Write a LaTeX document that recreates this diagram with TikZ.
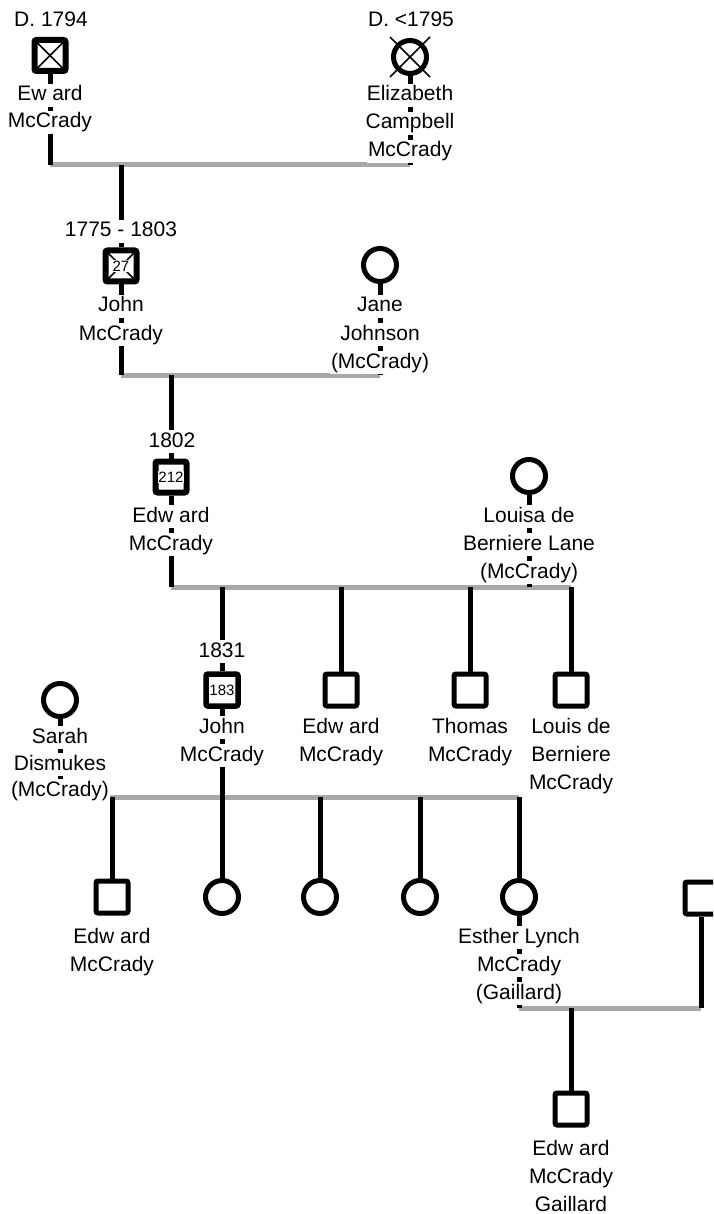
\documentclass[tikz,border=0pt]{standalone}
\usepackage{fontspec}
\setmainfont{Liberation Sans}
\usetikzlibrary{backgrounds}
\definecolor{mline}{RGB}{168,168,168}
\tikzset{
 lbl/.style={font=\fontsize{21}{21}\selectfont, fill=white, inner xsep=1pt, inner ysep=0pt, text height=17pt, text depth=6pt, anchor=base},
 num/.style={font=\fontsize{15}{15}\selectfont, fill=white, inner sep=0.8pt},
 male/.style={draw, fill=white, rectangle, minimum size=32pt, line width=5pt, rounded corners=2pt, inner sep=0pt},
 maleb/.style={male, line width=6pt, minimum size=31pt},
 female/.style={draw, fill=white, circle, minimum size=33pt, line width=5pt, inner sep=0pt},
 conn/.style={line width=5pt, black},
 marr/.style={line width=5pt, mline},
 xline/.style={line width=1.5pt},
}
\begin{document}
\begin{tikzpicture}[x=1pt,y=-1pt]
\useasboundingbox (0,0) rectangle (713,1214);
\clip (0,0) rectangle (713,1214);

% ---------- generation 1
\node[maleb] (eward) at (50,55.5) {};
\draw[xline] ([shift={(-12.5,-12.5)}]eward.center) -- ([shift={(12.5,12.5)}]eward.center);
\draw[xline] ([shift={(-12.5,12.5)}]eward.center) -- ([shift={(12.5,-12.5)}]eward.center);
\node[lbl] (t1a) at (51,27) {D. 1794};
\node[lbl] (t1b) at (50,101) {Ew ard};
\node[lbl] (t1c) at (50,128) {McCrady};

\node[female] (eliz) at (410,57) {};
\draw[xline] ([shift={(-20,-20)}]eliz.center) -- ([shift={(20,20)}]eliz.center);
\draw[xline] ([shift={(-20,20)}]eliz.center) -- ([shift={(20,-20)}]eliz.center);
\node[lbl] (t2a) at (411,27) {D. <1795};
\node[lbl] (t2b) at (410,101) {Elizabeth};
\node[lbl] (t2c) at (410,129) {Campbell};
\node[lbl] (t2d) at (410,157) {McCrady};

\coordinate (m1l) at (50,165);
\coordinate (m1r) at (410,165);
\coordinate (m1c) at (121,165);

% ---------- generation 2
\node[lbl] (t3a) at (121,237) {1775 - 1803};
\node[maleb] (john1) at (121,266) {};
\draw[xline] ([shift={(-12.5,-12.5)}]john1.center) -- ([shift={(12.5,12.5)}]john1.center);
\draw[xline] ([shift={(-12.5,12.5)}]john1.center) -- ([shift={(12.5,-12.5)}]john1.center);
\node[num] (n27) at (john1.center) {27};
\node[lbl] (t3b) at (121,312) {John};
\node[lbl] (t3c) at (121,340) {McCrady};

\node[female] (jane) at (380,265) {};
\node[lbl] (t4a) at (380,312) {Jane};
\node[lbl] (t4b) at (380,340) {Johnson};
\node[lbl] (t4c) at (380,368) {(McCrady)};

\coordinate (m2l) at (121,375);
\coordinate (m2r) at (380,375);
\coordinate (m2c) at (171,375);

% ---------- generation 3
\node[lbl] (t5a) at (172,447) {1802};
\node[maleb] (edw1) at (171,477) {};
\node[num] (n212) at (edw1.center) {212};
\node[lbl] (t5b) at (171,522) {Edw ard};
\node[lbl] (t5c) at (171,550) {McCrady};

\node[female] (louisa) at (529,476) {};
\node[lbl] (t6a) at (529,522) {Louisa de};
\node[lbl] (t6b) at (529,550) {Berniere Lane};
\node[lbl] (t6c) at (529,578) {(McCrady)};

\coordinate (m3l) at (171,587);
\coordinate (m3w) at (529,587);
\coordinate (m3r) at (571,587);
\coordinate (m3a) at (222,587);
\coordinate (m3b) at (341,587);
\coordinate (m3c) at (470,587);

% ---------- generation 4
\node[lbl] (t7a) at (222,657) {1831};
\node[male, line width=5.5pt] (john2) at (222,690) {};
\node[num] (n183) at (john2.center) {183};
\node[lbl] (t7b) at (222,733) {John};
\node[lbl] (t7c) at (222,761) {McCrady};

\node[male] (edw2) at (341,690) {};
\node[lbl] (t8a) at (341,733) {Edw ard};
\node[lbl] (t8b) at (341,761) {McCrady};

\node[male] (thomas) at (470,690) {};
\node[lbl] (t9a) at (470,733) {Thomas};
\node[lbl] (t9b) at (470,761) {McCrady};

\node[male] (louis) at (571,690) {};
\node[lbl] (t10a) at (571,733) {Louis de};
\node[lbl] (t10b) at (571,761) {Berniere};
\node[lbl] (t10c) at (571,789) {McCrady};

\node[female] (sarah) at (60,700) {};
\node[lbl] (t11a) at (60,743) {Sarah};
\node[lbl] (t11b) at (60,770) {Dismukes};
\node[lbl] (t11c) at (60,796) {(McCrady)};

\coordinate (m4l) at (60,797);
\coordinate (m4j) at (222,797);
\coordinate (m4a) at (112,797);
\coordinate (m4b) at (320,797);
\coordinate (m4c) at (420,797);
\coordinate (m4r) at (519,797);

% ---------- generation 5
\node[male] (edw3) at (112,897) {};
\node[lbl] (t12a) at (112,943) {Edw ard};
\node[lbl] (t12b) at (112,971) {McCrady};

\node[female] (d1) at (222,897) {};
\node[female] (d2) at (320,897) {};
\node[female] (d3) at (420,897) {};
\node[female] (esther) at (519,897) {};
\node[lbl] (t13a) at (519,943) {Esther Lynch};
\node[lbl] (t13b) at (519,971) {McCrady};
\node[lbl] (t13c) at (519,999) {(Gaillard)};

\node[male] (husb) at (701,898) {};

\coordinate (m5l) at (519,1008);
\coordinate (m5r) at (701,1008);
\coordinate (m5c) at (571,1008);

% ---------- generation 6
\node[male] (edw4) at (571,1109) {};
\node[lbl] (t14a) at (571,1155) {Edw ard};
\node[lbl] (t14b) at (571,1183) {McCrady};
\node[lbl] (t14c) at (571,1211) {Gaillard};

% ---------- connectors
\begin{pgfonlayer}{background}
\fill[white] (0,0) rectangle (713,1214);
\draw[marr] (m1l) -- (m1r);
\draw[marr] (m2l) -- (m2r);
\draw[marr] (m3l) -- (m3r);
\draw[marr] (m4l) -- (m4r);
\draw[marr] (m5l) -- (m5r);

\draw[conn] (eward.south) -- (m1l);
\draw[conn] (eliz.south) -- (m1r);
\draw[conn] (m1c) -- (john1.north);

\draw[conn] (john1.south) -- (m2l);
\draw[conn] (jane.south) -- (m2r);
\draw[conn] (m2c) -- (edw1.north);

\draw[conn] (edw1.south) -- (m3l);
\draw[conn] (louisa.south) -- (m3w);
\draw[conn] (m3a) -- (john2.north);
\draw[conn] (m3b) -- (edw2.north);
\draw[conn] (m3c) -- (thomas.north);
\draw[conn] (m3r) -- (louis.north);

\draw[conn] (john2.south) -- (m4j);
\draw[conn] (sarah.south) -- (m4l);
\draw[conn] (m4a) -- (edw3.north);
\draw[conn] (m4j) -- (d1.north);
\draw[conn] (m4b) -- (d2.north);
\draw[conn] (m4c) -- (d3.north);
\draw[conn] (m4r) -- (esther.north);

\draw[conn] (esther.south) -- (m5l);
\draw[conn] (husb.south) -- (m5r);
\draw[conn] (m5c) -- (edw4.north);
\end{pgfonlayer}
\end{tikzpicture}
\end{document}
